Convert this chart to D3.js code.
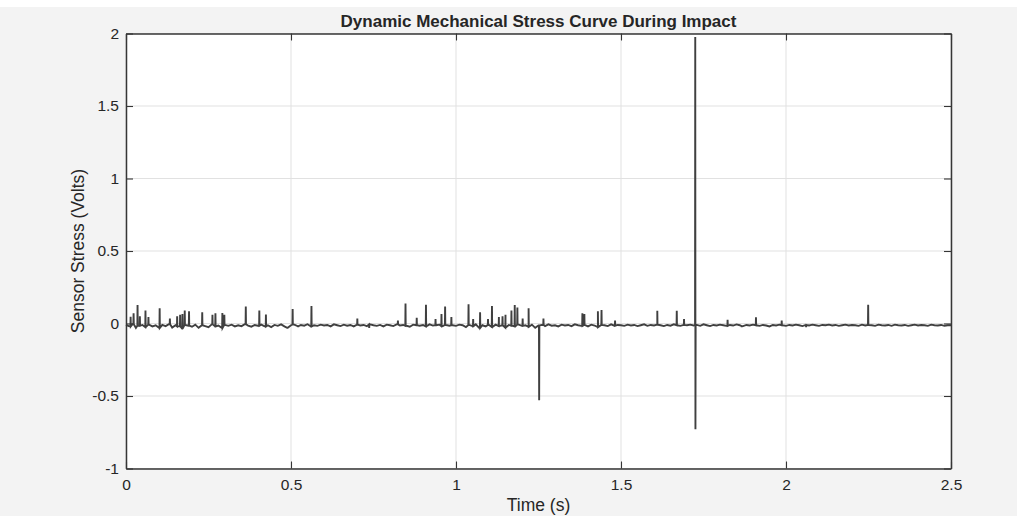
<!DOCTYPE html>
<html><head><meta charset="utf-8">
<script src="https://cdn.jsdelivr.net/npm/d3@7"></script>
<style>body{margin:0;background:#fff;}svg{display:block;}text{font-family:"Liberation Sans",Arial,sans-serif;fill:#262626;}</style>
</head><body>
<svg id="chart" width="1017" height="516"></svg>
<script>
const title = "Dynamic Mechanical Stress Curve During Impact";
const xLabel = "Time (s)";
const yLabel = "Sensor Stress (Volts)";
const xTicks = [0, 0.5, 1, 1.5, 2, 2.5];
const xTickLabels = ["0", "0.5", "1", "1.5", "2", "2.5"];
const yTicks = [-1, -0.5, 0, 0.5, 1, 1.5, 2];
const yTickLabels = ["-1", "-0.5", "0", "0.5", "1", "1.5", "2"];

// baseline noise, one value every 0.01 s from 0 to 2.5 s
const baselineStep = 0.01;
const baseline = [
-0.01,-0.02,-0.005,-0.03,-0.015,-0.01,-0.025,-0.008,-0.02,-0.012,
-0.03,-0.01,-0.018,-0.005,-0.028,-0.012,-0.02,-0.035,-0.01,-0.015,
-0.022,-0.008,-0.03,-0.012,-0.018,-0.025,-0.006,-0.02,-0.014,-0.03,
-0.01,-0.016,-0.008,-0.02,-0.012,-0.018,-0.005,-0.014,-0.022,-0.01,
-0.015,-0.008,-0.02,-0.012,-0.025,-0.01,-0.016,-0.006,-0.02,-0.03,
-0.012,-0.008,-0.018,-0.01,-0.015,-0.005,-0.02,-0.012,-0.016,-0.008,
-0.014,-0.01,-0.02,-0.006,-0.012,-0.018,-0.008,-0.015,-0.01,-0.02,
-0.008,-0.014,-0.01,-0.018,-0.006,-0.012,-0.016,-0.01,-0.02,-0.008,
-0.012,-0.018,-0.006,-0.014,-0.01,-0.016,-0.022,-0.008,-0.012,-0.015,
-0.01,-0.02,-0.006,-0.014,-0.012,-0.008,-0.018,-0.01,-0.015,-0.012,
-0.016,-0.008,-0.012,-0.025,-0.01,-0.018,-0.006,-0.03,-0.012,-0.02,
-0.01,-0.024,-0.008,-0.018,-0.012,-0.028,-0.01,-0.015,-0.02,-0.008,
-0.016,-0.012,-0.022,-0.008,-0.03,-0.014,-0.01,-0.018,-0.006,-0.015,
-0.012,-0.02,-0.008,-0.014,-0.01,-0.018,-0.006,-0.012,-0.016,-0.01,
-0.02,-0.008,-0.014,-0.025,-0.01,-0.012,-0.018,-0.006,-0.015,-0.01,
-0.012,-0.016,-0.008,-0.014,-0.01,-0.018,-0.012,-0.006,-0.016,-0.01,
-0.014,-0.008,-0.012,-0.018,-0.01,-0.015,-0.006,-0.012,-0.016,-0.01,
-0.012,-0.008,-0.014,-0.01,-0.016,-0.006,-0.012,-0.018,-0.01,-0.014,
-0.008,-0.012,-0.016,-0.01,-0.014,-0.006,-0.012,-0.018,-0.01,-0.014,
-0.008,-0.012,-0.016,-0.01,-0.014,-0.02,-0.01,-0.014,-0.008,-0.012,
-0.016,-0.01,-0.014,-0.008,-0.012,-0.018,-0.01,-0.014,-0.008,-0.012,
-0.016,-0.01,-0.012,-0.008,-0.014,-0.01,-0.016,-0.012,-0.008,-0.014,
-0.01,-0.012,-0.016,-0.008,-0.014,-0.01,-0.012,-0.016,-0.008,-0.012,
-0.014,-0.01,-0.016,-0.008,-0.012,-0.014,-0.01,-0.016,-0.012,-0.008,
-0.014,-0.01,-0.012,-0.016,-0.008,-0.012,-0.014,-0.01,-0.016,-0.012,
-0.012];

// short single-sample spikes (time in s, peak in V)
const spikeTimes = [
0.014,0.023,0.035,0.042,0.059,0.068,0.102,0.133,0.155,0.164,0.171,0.178,0.191,
0.231,0.262,0.271,0.292,0.298,0.363,0.404,0.424,0.489,0.505,0.522,0.562,
0.701,0.737,0.824,0.847,0.881,0.909,0.938,0.956,0.967,0.986,
1.038,1.052,1.073,1.097,1.109,1.130,1.141,1.150,1.168,1.178,1.186,1.202,1.220,
1.252,1.265,1.383,1.389,1.430,1.441,1.482,1.610,1.669,1.691,
1.823,1.866,1.909,1.987,2.061,2.249];
const spikeValues = [
0.047,0.07,0.128,0.05,0.09,0.045,0.105,0.035,0.05,0.06,0.065,0.09,0.085,
0.077,0.06,0.07,0.072,0.06,0.118,0.09,0.062,-0.03,0.1,-0.025,0.12,
0.035,-0.03,0.02,0.138,0.04,0.13,0.03,0.065,0.118,0.045,
0.132,0.03,0.078,0.03,0.12,0.045,0.05,0.06,0.09,0.128,0.11,0.035,0.105,
-0.53,0.035,0.07,0.065,0.085,0.093,0.02,0.088,0.088,0.03,
0.025,-0.025,0.043,0.02,-0.025,0.13];

// main impact burst (consecutive samples)
const impactTimes = [1.7244, 1.7250, 1.7253, 1.7256, 1.7262];
const impactValues = [-0.01, 1.975, 0.52, -0.73, -0.012];

const svg = d3.select("#chart");
const W = 1017, H = 516;
const m = {left: 126, right: 951, top: 33.5, bottom: 468.5};
const FONT = "'Liberation Sans', Arial, sans-serif";

svg.append("rect").attr("x", 0).attr("y", 7).attr("width", W).attr("height", H - 7).attr("fill", "#f3f3f3");

const x = d3.scaleLinear().domain([0, 2.5]).range([m.left, m.right]);
const y = d3.scaleLinear().domain([-1, 2]).range([m.bottom, m.top]);

svg.append("rect").attr("x", m.left).attr("y", m.top).attr("width", m.right - m.left).attr("height", m.bottom - m.top).attr("fill", "#fff");

// grid
const grid = svg.append("g");
grid.selectAll(".gx").data(xTicks).join("line")
  .attr("x1", d => x(d)).attr("x2", d => x(d)).attr("y1", m.top).attr("y2", m.bottom)
  .attr("stroke", "#e1e1e1").attr("stroke-width", 1);
grid.selectAll(".gy").data(yTicks).join("line")
  .attr("y1", d => y(d)).attr("y2", d => y(d)).attr("x1", m.left).attr("x2", m.right)
  .attr("stroke", "#e1e1e1").attr("stroke-width", 1);

// data
const points = baseline.map((v, i) => ({t: i * baselineStep, v}));
spikeTimes.forEach((t, i) => {
  const b = baseline[Math.round(t / baselineStep)];
  points.push({t: t - 0.0006, v: b}, {t, v: spikeValues[i]}, {t: t + 0.0006, v: b});
});
impactTimes.forEach((t, i) => points.push({t, v: impactValues[i]}));
points.sort((a, b) => a.t - b.t);

svg.append("path").datum(points)
  .attr("d", d3.line().x(d => x(d.t)).y(d => y(d.v)))
  .attr("fill", "none").attr("stroke", "#404040").attr("stroke-width", 1.9).attr("stroke-linejoin", "miter");

// axes (MATLAB box style, ticks inside)
const tickLen = 7;
const axCol = "#363636";
const xAxisB = d3.axisBottom(x).tickValues(xTicks).tickFormat((d, i) => xTickLabels[i]).tickSizeInner(-tickLen).tickSizeOuter(0).tickPadding(10);
const xAxisT = d3.axisTop(x).tickValues(xTicks).tickFormat("").tickSizeInner(-tickLen).tickSizeOuter(0);
const yAxisL = d3.axisLeft(y).tickValues(yTicks).tickFormat((d, i) => yTickLabels[i]).tickSizeInner(-tickLen).tickSizeOuter(0).tickPadding(7);
const yAxisR = d3.axisRight(y).tickValues(yTicks).tickFormat("").tickSizeInner(-tickLen).tickSizeOuter(0);

function style(g) {
  g.select(".domain").attr("stroke", axCol).attr("stroke-width", 1.5);
  g.selectAll(".tick line").attr("stroke", axCol).attr("stroke-width", 1.1);
  g.selectAll(".tick text").attr("fill", "#262626").style("font-size", "15.5px").style("font-family", FONT);
}
svg.append("g").attr("transform", `translate(0,${m.bottom})`).call(xAxisB).call(style);
svg.append("g").attr("transform", `translate(0,${m.top})`).call(xAxisT).call(style);
svg.append("g").attr("transform", `translate(${m.left},0)`).call(yAxisL).call(style);
svg.append("g").attr("transform", `translate(${m.right},0)`).call(yAxisR).call(style);

svg.append("text").attr("x", (m.left + m.right) / 2).attr("y", 27).attr("text-anchor", "middle")
  .style("font-size", "17px").style("font-weight", "bold").text(title);
svg.append("text").attr("x", (m.left + m.right) / 2).attr("y", 511).attr("text-anchor", "middle")
  .style("font-size", "17.5px").text(xLabel);
svg.append("text").attr("transform", `translate(84,${(m.top + m.bottom) / 2}) rotate(-90)`).attr("text-anchor", "middle")
  .style("font-size", "17.5px").text(yLabel);
</script>
</body></html>
